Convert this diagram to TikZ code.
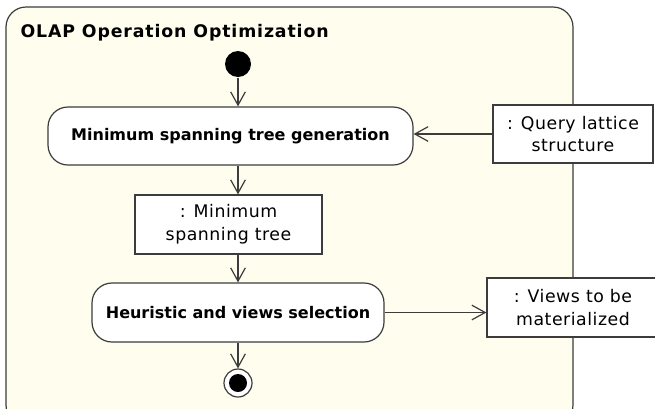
\documentclass[tikz,border=0pt]{standalone}
\usepackage{fontspec}
\setmainfont{DejaVu Sans}
\newfontfamily\widefont[LetterSpace=5]{DejaVu Sans}
\newfontfamily\objfont[LetterSpace=3]{DejaVu Sans}
\usepackage{xcolor}
\usetikzlibrary{arrows.meta}
\definecolor{partfill}{RGB}{254,253,238}
\definecolor{umlline}{RGB}{60,60,60}

\begin{document}
\begin{tikzpicture}[x=0.75pt,y=-0.75pt,line width=0.9pt,
  action/.style={draw=umlline,fill=white,rounded corners=15pt,font=\bfseries\fontsize{12}{14}\selectfont,inner sep=0pt},
  object/.style={draw=umlline,fill=white,align=center,font=\objfont\fontsize{13}{17}\selectfont,inner sep=0pt},
  flow/.style={draw=umlline,-{Straight Barb[length=10pt,width=11pt]}}]
\useasboundingbox (0,0) rectangle (655,408);
\draw[umlline,fill=partfill,rounded corners=15pt] (6,7) rectangle (573,425);
\node[anchor=base west,inner sep=0pt,font=\widefont\bfseries\fontsize{13}{15}\selectfont] (title) at (20,37) {OLAP Operation Optimization};
\node[circle,fill=black,minimum size=19.5pt,inner sep=0pt] (start) at (238,64) {};
\node[action,minimum width=273.75pt,minimum height=43.5pt] (gen) at (230.5,136) {Minimum spanning tree generation};
\node[object,minimum width=140.25pt,minimum height=44.25pt] (mst) at (228.5,224.5) {: Minimum\\spanning tree};
\node[action,minimum width=219pt,minimum height=44.25pt] (heur) at (238,312.5) {Heuristic and views selection};
\node[object,minimum width=120pt,minimum height=43.5pt] (lattice) at (573,134) {: Query lattice\\structure};
\node[object,minimum width=129pt,minimum height=44.25pt] (views) at (573,307.5) {: Views to be\\materialized};
\node[circle,draw=umlline,fill=white,minimum size=21pt,inner sep=0pt] (final) at (238,383) {};
\node[circle,fill=black,minimum size=13.5pt,inner sep=0pt] at (final) {};
\draw[flow] (start) -- (start |- gen.north);
\draw[flow] (gen.south -| start) -- (mst.north -| start);
\draw[flow] (mst.south -| start) -- (heur.north);
\draw[flow] (heur) -- (final);
\draw[flow] (lattice.west) -- (gen.east |- lattice.west);
\draw[flow] (heur.east) -- (heur.east -| views.west);
\end{tikzpicture}
\end{document}
